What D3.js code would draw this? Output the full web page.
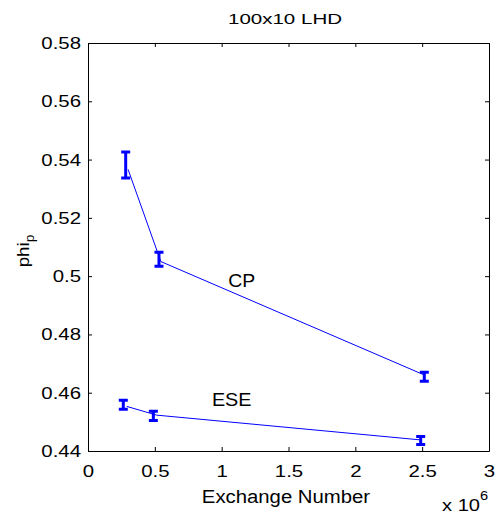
<!DOCTYPE html>
<meta charset="utf-8">
<head>
    <title>100x10 LHD</title>
    <script src="https://d3js.org/d3.v7.min.js"></script>
</head>

<style>
    body { margin: 0; background: #fff; }
    text { font-family: "Liberation Sans", Arial, sans-serif; fill: #000; }
    .series { fill: none; stroke: #0000ff; stroke-width: 1px; }
    .err { stroke: #0000ff; stroke-width: 3px; fill: none; }
</style>

<svg></svg>

<script>
    var vWidth = 495;
    var vHeight = 514;

    // values, x in units of 1e6
    var cpLineX = [0.30, 0.545, 2.51];
    var cpMean = [0.5366, 0.5050, 0.4662];
    var cpBarX = [0.282, 0.531, 2.516];
    var cpLow = [0.5337, 0.5034, 0.4639];
    var cpHigh = [0.5426, 0.5082, 0.4670];

    var eseLineX = [0.29, 0.514, 2.49];
    var eseMean = [0.4553, 0.4523, 0.4438];
    var eseBarX = [0.264, 0.489, 2.489];
    var eseLow = [0.4543, 0.4505, 0.4422];
    var eseHigh = [0.4574, 0.4536, 0.4450];

    var xTicks = [0, 0.5, 1, 1.5, 2, 2.5, 3];
    var yTicks = [0.44, 0.46, 0.48, 0.5, 0.52, 0.54, 0.56, 0.58];

    var margin = {left: 88, right: 6, top: 43, bottom: 63};
    var w = vWidth - margin.left - margin.right;
    var h = vHeight - margin.top - margin.bottom;

    var svg = d3.select('svg').attr('width', vWidth).attr('height', vHeight);
    var g = svg.append('g').attr('transform', 'translate(' + margin.left + ',' + margin.top + ')');

    var x = d3.scaleLinear().domain([0, 3]).range([0, w]);
    var y = d3.scaleLinear().domain([0.44, 0.58]).range([h, 0]);

    var fmt = function (d) { return String(+d.toFixed(2)); };

    // the original text is a bit wider than Liberation Sans, so widen it
    function widen(sel, k) {
        sel.each(function () {
            var t = d3.select(this);
            var x0 = +(t.attr('x') || 0);
            t.attr('x', x0 / k).attr('transform', 'scale(' + k + ',1)');
        });
    }

    // axes with inward ticks on all four sides
    g.append('g').attr('transform', 'translate(0,' + h + ')')
        .call(d3.axisBottom(x).tickValues(xTicks).tickFormat(fmt).tickSizeInner(-4).tickSizeOuter(0).tickPadding(14));
    g.append('g')
        .call(d3.axisLeft(y).tickValues(yTicks).tickFormat(fmt).tickSizeInner(-4).tickSizeOuter(0).tickPadding(7));
    g.append('g').call(d3.axisTop(x).tickValues(xTicks).tickFormat('').tickSizeInner(-4).tickSizeOuter(0));
    g.append('g').attr('transform', 'translate(' + w + ',0)')
        .call(d3.axisRight(y).tickValues(yTicks).tickFormat('').tickSizeInner(-4).tickSizeOuter(0));
    g.selectAll('.domain').attr('stroke', '#000');
    g.selectAll('.tick line').attr('stroke', '#000');
    g.selectAll('.tick text').style('font-size', '17px').call(widen, 1.2);

    // series
    var line = d3.line().x(function (d) { return x(d[0]); }).y(function (d) { return y(d[1]); });
    var series = [
        {lx: cpLineX, m: cpMean, bx: cpBarX, lo: cpLow, hi: cpHigh},
        {lx: eseLineX, m: eseMean, bx: eseBarX, lo: eseLow, hi: eseHigh}
    ];
    series.forEach(function (s) {
        g.append('path').attr('class', 'series')
            .attr('d', line(d3.zip(s.lx, s.m)));
        var cap = 4.5;
        s.bx.forEach(function (bx, i) {
            var px = x(bx), y0 = y(s.lo[i]), y1 = y(s.hi[i]);
            g.append('path').attr('class', 'err')
                .attr('d', 'M' + px + ',' + y0 + 'V' + y1 +
                    'M' + (px - cap) + ',' + y0 + 'H' + (px + cap) +
                    'M' + (px - cap) + ',' + y1 + 'H' + (px + cap));
        });
    });

    // labels
    g.append('text').attr('x', x(1.15)).attr('y', y(0.4964)).attr('text-anchor', 'middle')
        .style('font-size', '18px').text('CP').call(widen, 1.08);
    g.append('text').attr('x', x(1.075)).attr('y', y(0.4553)).attr('text-anchor', 'middle')
        .style('font-size', '18px').text('ESE').call(widen, 1.1);

    svg.append('text').attr('x', 285).attr('y', 24).attr('text-anchor', 'middle')
        .attr('textLength', 114).attr('lengthAdjust', 'spacingAndGlyphs')
        .style('font-size', '15.5px').text('100x10 LHD');
    svg.append('text').attr('x', 286).attr('y', 503.5).attr('text-anchor', 'middle')
        .style('font-size', '18px').text('Exchange Number').call(widen, 1.13);

    var ex = svg.append('text').attr('x', 442).attr('y', 511).style('font-size', '16.5px');
    ex.append('tspan').text('x 10');
    ex.append('tspan').attr('dy', -11).style('font-size', '12px').text('6');
    widen(ex, 1.22);

    var yl = svg.append('text').attr('transform', 'translate(29,251) rotate(-90) scale(1.1,1)')
        .attr('text-anchor', 'middle').style('font-size', '17px');
    yl.append('tspan').text('phi');
    yl.append('tspan').attr('dy', 5).style('font-size', '12.5px').text('p');
</script>
